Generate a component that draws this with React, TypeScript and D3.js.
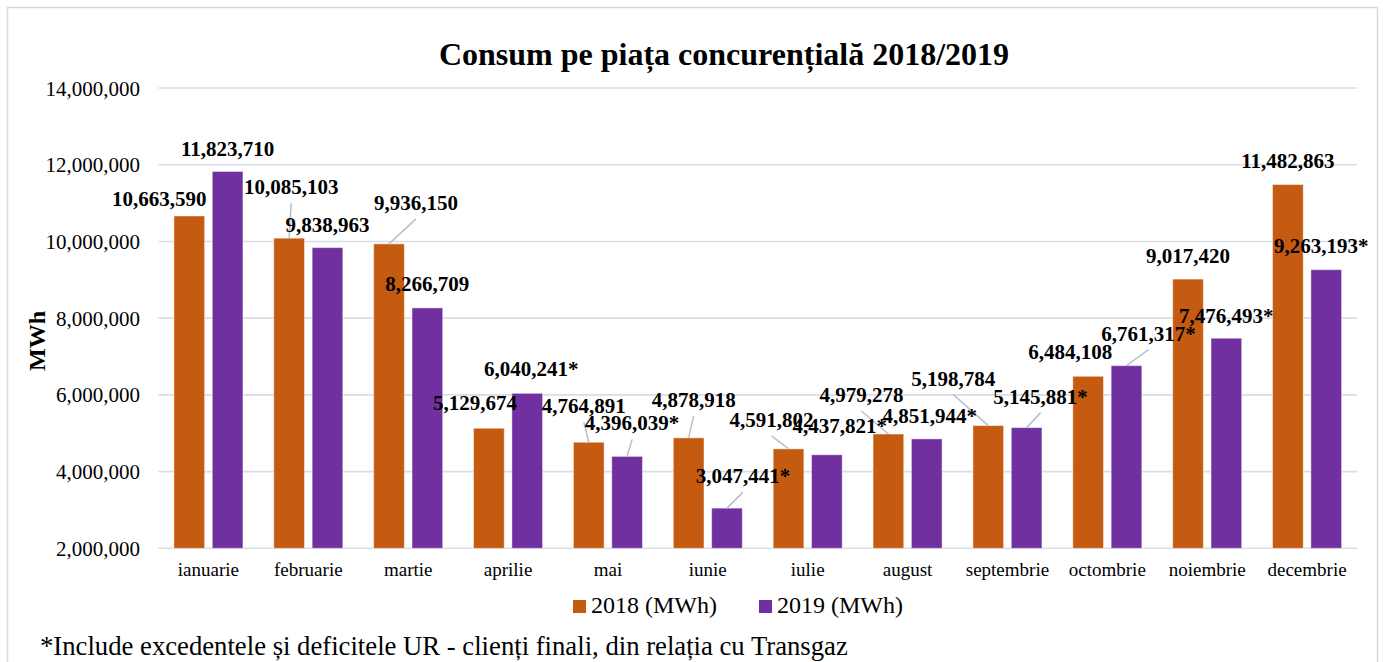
import React from "react";
import * as d3 from "d3";

const months = ["ianuarie", "februarie", "martie", "aprilie", "mai", "iunie", "iulie", "august", "septembrie", "octombrie", "noiembrie", "decembrie"];
const values2018 = [10663590, 10085103, 9936150, 5129674, 4764891, 4878918, 4591802, 4979278, 5198784, 6484108, 9017420, 11482863];
const values2019 = [11823710, 9838963, 8266709, 6040241, 4396039, 3047441, 4437821, 4851944, 5145881, 6761317, 7476493, 9263193];
const starred2019 = [false, false, false, true, true, true, true, true, true, true, true, true];
const seriesNames = ["2018 (MWh)", "2019 (MWh)"];
const yTicks = [2000000, 4000000, 6000000, 8000000, 10000000, 12000000, 14000000];
const title = "Consum pe piața concurențială 2018/2019";
const yTitle = "MWh";
const footnote = "*Include excedentele și deficitele UR - clienți finali, din relația cu Transgaz";

// label layout: pixel offsets of each data label from its bar's top centre, and whether a leader line is drawn
const labelDx2018 = [-30, 2, 27, -14, -5, 5, -17, -27, -35, -18, 0, 0];
const labelDy2018 = [-10, -44, -34, -18, -29, -31, -22, -32, -40, -17, -16, -17];
const leader2018 = [false, true, true, false, true, true, true, true, true, false, false, false];
const labelDx2019 = [0, 0, 0, 4, 5, 16, 13, 3, 14, 22, 0, -5];
const labelDy2019 = [-15.5, -16, -17, -17, -26, -25, -22, -16, -24, -25, -15.5, -17];
const leader2019 = [false, false, false, false, true, true, false, false, true, true, false, false];

const W = 1383;
const H = 662;
const colors = ["#C55A11", "#7030A0"];
const font = "'Liberation Serif', 'Times New Roman', serif";

export default function App() {
  const x0 = d3.scaleBand<string>().domain(months).range([158.5, 1357]).paddingInner(0.309).paddingOuter(0.1545);
  const x1 = d3.scaleBand<string>().domain(seriesNames).range([0, x0.bandwidth()]).paddingInner(0.2).paddingOuter(0);
  const y = d3.scaleLinear().domain([2000000, 14000000]).range([548.3, 88]);
  const fmt = d3.format(",");
  const series = [
    { name: seriesNames[0], values: values2018, dx: labelDx2018, dy: labelDy2018, leader: leader2018, star: months.map(() => false) },
    { name: seriesNames[1], values: values2019, dx: labelDx2019, dy: labelDy2019, leader: leader2019, star: starred2019 },
  ];

  return (
    <svg width={W} height={H} style={{ position: "absolute", left: 0, top: 0, background: "#fff" }} fontFamily={font}>
      <rect x={0} y={0} width={W} height={H} fill="#fff" />
      <rect x={7.5} y={7.5} width={1370} height={720} fill="none" stroke="#D9D9D9" strokeWidth={1.5} />
      <text x={724} y={65} textAnchor="middle" fontSize={32} fontWeight="bold" fill="#000">{title}</text>
      {yTicks.map((t) => (
        <g key={t}>
          <line x1={158.5} x2={1357} y1={y(t)} y2={y(t)} stroke="#D9DEE6" strokeWidth={1.6} />
          <text x={140} y={y(t) + 7.5} textAnchor="end" fontSize={21} fill="#000">{fmt(t)}</text>
        </g>
      ))}
      <text transform={`translate(45,341) rotate(-90)`} textAnchor="middle" fontSize={24} fontWeight="bold" fill="#000">{yTitle}</text>
      {series.map((s, si) => (
        <g key={s.name}>
          {months.map((m, i) => {
            const bx = (x0(m) as number) + (x1(s.name) as number);
            const by = y(s.values[i]);
            return (
              <rect key={m} x={bx} y={by} width={x1.bandwidth()} height={y(2000000) - by} fill={colors[si]} stroke="rgba(255,255,255,0.45)" strokeWidth={1} />
            );
          })}
        </g>
      ))}
      {series.map((s) => (
        <g key={s.name + "-labels"}>
          {months.map((m, i) => {
            const cx = (x0(m) as number) + (x1(s.name) as number) + x1.bandwidth() / 2;
            const by = y(s.values[i]);
            const lx = cx + s.dx[i];
            const ly = by + s.dy[i];
            return (
              <g key={m}>
                {s.leader[i] && <line x1={lx} y1={ly + 9} x2={cx} y2={by} stroke="#B4C0D0" strokeWidth={1.5} />}
                <text x={lx} y={ly} textAnchor="middle" fontSize={21} fontWeight="bold" fill="#000">
                  {fmt(s.values[i]) + (s.star[i] ? "*" : "")}
                </text>
              </g>
            );
          })}
        </g>
      ))}
      {months.map((m) => (
        <text key={m} x={(x0(m) as number) + x0.bandwidth() / 2} y={576} textAnchor="middle" fontSize={19} fill="#000">{m}</text>
      ))}
      {seriesNames.map((n, i) => {
        const lx = [573, 759][i];
        return (
          <g key={n}>
            <rect x={lx} y={600} width={13} height={13} fill={colors[i]} />
            <text x={lx + 18} y={613} fontSize={24} fill="#000">{n}</text>
          </g>
        );
      })}
      <text x={40} y={655} fontSize={26.7} fill="#000">{footnote}</text>
    </svg>
  );
}
